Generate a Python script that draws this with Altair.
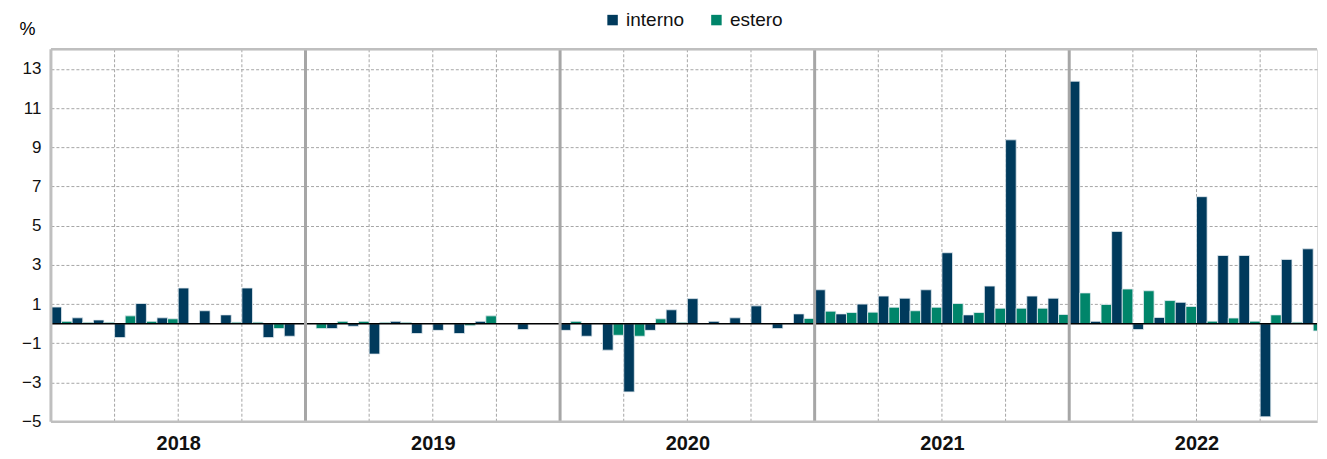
import json
import altair as alt
import pandas as pd

years = ["2018", "2019", "2020", "2021", "2022"]
series = ["interno", "estero"]
colors = ["#003a5c", "#00856a"]

interno = [
    0.85, 0.30, 0.19, -0.71, 1.03, 0.30, 1.82, 0.66, 0.45, 1.82, -0.71, -0.64,
    0.00, -0.25, -0.13, -1.55, 0.12, -0.50, -0.34, -0.50, 0.12, 0.00, -0.30, 0.00,
    -0.34, -0.64, -1.35, -3.48, -0.34, 0.71, 1.28, 0.12, 0.30, 0.91, -0.25, 0.50,
    1.73, 0.50, 1.00, 1.41, 1.30, 1.73, 3.62, 0.45, 1.92, 9.38, 1.41, 1.30,
    12.37, 0.12, 4.71, -0.30, 0.32, 1.09, 6.48, 3.48, 3.48, -4.75, 3.28, 3.82,
]
estero = [
    0.12, 0.07, 0.07, 0.40, 0.12, 0.25, 0.00, 0.00, 0.08, 0.08, -0.25, 0.00,
    -0.25, 0.12, 0.12, 0.07, 0.07, 0.00, 0.00, -0.10, 0.40, 0.00, 0.00, 0.00,
    0.12, 0.00, -0.59, -0.64, 0.25, 0.07, 0.00, 0.00, 0.00, 0.00, 0.00, 0.27,
    0.64, 0.57, 0.59, 0.84, 0.66, 0.84, 1.03, 0.57, 0.79, 0.79, 0.79, 0.47,
    1.57, 0.98, 1.77, 1.68, 1.18, 0.88, 0.13, 0.29, 0.13, 0.45, 0.08, -0.37,
]
y_ticks = [-5, -3, -1, 1, 3, 5, 7, 9, 11, 13]

rows = []
for i, (a, b) in enumerate(zip(interno, estero)):
    rows.append({"m": i, "serie": "interno", "valore": a})
    rows.append({"m": i, "serie": "estero", "valore": b})
df = pd.DataFrame(rows)

n_months = len(interno)
quarters = pd.DataFrame({"q": [k * 3 for k in range(1, n_months // 3) if k % 4 != 0]})
year_sep = pd.DataFrame({"s": [k * 12 for k in range(1, len(years))]})
left_edge = pd.DataFrame({"s": [0]})
hborders = pd.DataFrame({"v": [-5, 14]})
zero = pd.DataFrame({"v": [0]})

FONT = "Liberation Sans Narrow, Arial Narrow, Liberation Sans, sans-serif"
W, H = 1268, 373

xscale = alt.Scale(domain=[0, 59.68], nice=False, zero=False)
yscale = alt.Scale(domain=[-5, 14], nice=False, zero=False)

label_expr = json.dumps(years) + "[floor(datum.value / 12)]"

bars = alt.Chart(df).transform_calculate(
    x0="datum.m + (datum.serie == 'interno' ? 0 : 0.5)",
    x1="datum.m + (datum.serie == 'interno' ? 0.5 : 1)",
).mark_bar(clip=True, stroke="#e3ebf0", strokeWidth=0.8).encode(
    x=alt.X("x0:Q", scale=xscale, title=None,
            axis=alt.Axis(values=[6 + 12 * k for k in range(len(years))],
                          labelExpr=label_expr, grid=False, ticks=False,
                          domain=False, labelFontSize=20, labelFontWeight="bold",
                          labelPadding=12, labelColor="#111", labelFont=FONT)),
    x2="x1:Q",
    y=alt.Y("valore:Q", scale=yscale,
            axis=alt.Axis(values=y_ticks, title="%", titleAngle=0, titleX=-24,
                          titleY=-20, titleFontSize=18, titleFontWeight="normal",
                          titleFont=FONT, titleAlign="center", titleBaseline="middle",
                          labelFontSize=17, labelFont=FONT, labelColor="#111",
                          labelPadding=10, domain=False, ticks=False, grid=True,
                          gridDash=[3, 2], gridColor="#a6a6a6", gridWidth=1)),
    y2=alt.datum(0),
    color=alt.Color("serie:N", scale=alt.Scale(domain=series, range=colors),
                    legend=alt.Legend(title=None, orient="none", legendX=553,
                                      legendY=-39, direction="horizontal",
                                      symbolType="square", symbolSize=110,
                                      symbolStrokeWidth=0, labelFontSize=19,
                                      labelFont=FONT, labelColor="#111",
                                      columnPadding=22, labelOffset=4)),
)

qrules = alt.Chart(quarters).mark_rule(strokeDash=[3, 2], color="#a6a6a6",
                                       strokeWidth=1).encode(
    x=alt.X("q:Q", scale=xscale))
zrule = alt.Chart(zero).mark_rule(color="#000000", strokeWidth=1.5).encode(
    y=alt.Y("v:Q", scale=yscale))
yrules = alt.Chart(year_sep).mark_rule(color="#a6a6a6", strokeWidth=3).encode(
    x=alt.X("s:Q", scale=xscale))
lrule = alt.Chart(left_edge).mark_rule(color="#bfbfbf", strokeWidth=3).encode(
    x=alt.X("s:Q", scale=xscale))
hrules = alt.Chart(hborders).mark_rule(color="#bfbfbf", strokeWidth=2.5).encode(
    y=alt.Y("v:Q", scale=yscale))

chart = alt.layer(qrules, bars, zrule, yrules, hrules, lrule).properties(
    width=W, height=H,
    padding={"left": 10, "right": 0, "top": 2, "bottom": 2},
).configure_view(stroke=None).configure(background="white")

chart.save("out.html", embed_options={"renderer": "svg", "actions": False})
